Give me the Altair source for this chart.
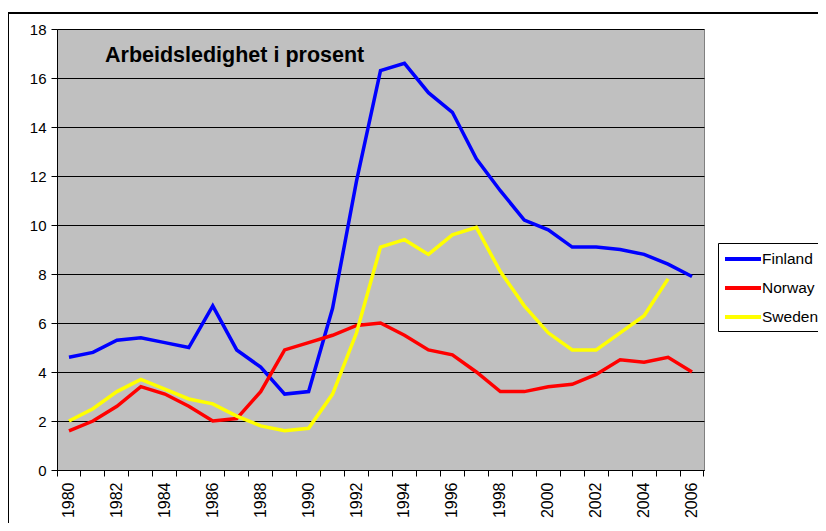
import altair as alt
import pandas as pd

years = list(range(1980, 2007))
finland = [4.6, 4.8, 5.3, 5.4, 5.2, 5.0, 6.7, 4.9, 4.2, 3.1, 3.2, 6.6, 11.8, 16.3, 16.6,
           15.4, 14.6, 12.7, 11.4, 10.2, 9.8, 9.1, 9.1, 9.0, 8.8, 8.4, 7.9]
norway = [1.6, 2.0, 2.6, 3.4, 3.1, 2.6, 2.0, 2.1, 3.2, 4.9, 5.2, 5.5, 5.9, 6.0, 5.5,
          4.9, 4.7, 4.0, 3.2, 3.2, 3.4, 3.5, 3.9, 4.5, 4.4, 4.6, 4.0]
sweden = [2.0, 2.5, 3.2, 3.7, 3.3, 2.9, 2.7, 2.2, 1.8, 1.6, 1.7, 3.1, 5.6, 9.1, 9.4,
          8.8, 9.6, 9.9, 8.1, 6.7, 5.6, 4.9, 4.9, 5.6, 6.3, 7.8, None]
countries = ["Finland", "Norway", "Sweden"]
colors = ["#0000FF", "#FF0000", "#FFFF00"]
y_ticks = [0, 2, 4, 6, 8, 10, 12, 14, 16, 18]
title_text = "Arbeidsledighet i prosent"

rows = []
for name, series in zip(countries, [finland, norway, sweden]):
    for yr, v in zip(years, series):
        if v is not None:
            rows.append({"year": yr, "value": v, "country": name})
df = pd.DataFrame(rows)

FONT = "Liberation Sans"

lines = alt.Chart(df).mark_line(strokeWidth=3.5).encode(
    x=alt.X("year:O",
            scale=alt.Scale(type="band", paddingInner=0, paddingOuter=0),
            axis=alt.Axis(title=None, bandPosition=1, tickExtra=True,
                          labelExpr="datum.value % 2 == 0 ? datum.value : ''",
                          labelAngle=270, labelFontSize=16, labelPadding=6,
                          tickSize=6, labelOverlap=False, grid=False)),
    y=alt.Y("value:Q",
            scale=alt.Scale(domain=[0, 18], nice=False, zero=True),
            axis=alt.Axis(title=None, values=y_ticks, labelFontSize=15,
                          tickSize=6, labelPadding=5, grid=True)),
    color=alt.Color("country:N",
                    scale=alt.Scale(domain=countries, range=colors),
                    legend=alt.Legend(title=None, orient="none", legendX=661, legendY=214,
                                      symbolType="M-1,0H3", symbolSize=324,
                                      symbolStrokeWidth=4, labelFontSize=15.5,
                                      strokeColor="black", fillColor="white",
                                      padding=5, labelOffset=17, rowPadding=9)),
)

frame_data = pd.DataFrame({"k": [0]})
frame_left = alt.Chart(frame_data).mark_rule(color="black", strokeWidth=2).encode(
    x=alt.value(-49), y=alt.value(-16), y2=alt.value(700))
frame_top = alt.Chart(frame_data).mark_rule(color="black", strokeWidth=2).encode(
    x=alt.value(-49), x2=alt.value(900), y=alt.value(-16))
title_mark = alt.Chart(frame_data).mark_text(
    align="left", baseline="alphabetic", fontSize=21.5, fontWeight="bold",
    font=FONT, color="black").encode(
    x=alt.value(48), y=alt.value(33), text=alt.value(title_text))

chart = alt.layer(lines, frame_left, frame_top, title_mark).properties(
    width=647, height=441,
    autosize=alt.AutoSizeParams(type="none"),
    padding={"left": 49, "top": 21, "right": 114, "bottom": 53},
).configure(
    font=FONT,
    background="white",
).configure_view(
    fill="#C0C0C0", stroke="#808080", strokeWidth=1,
).configure_axis(
    labelFont=FONT, labelColor="black", domainColor="black", tickColor="black",
    gridColor="#000000", gridWidth=1, domainWidth=1, tickWidth=1,
).configure_legend(
    labelFont=FONT, labelColor="black",
)

chart.save("out.html", embed_options={"renderer": "svg", "actions": False})
